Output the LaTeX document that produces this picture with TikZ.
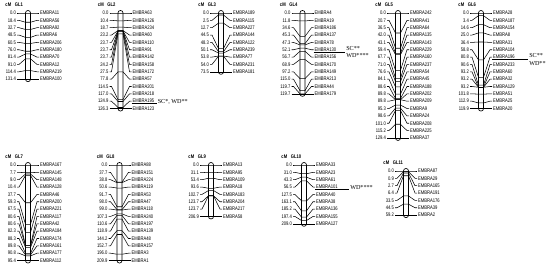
\documentclass[tikz,border=0pt]{standalone}
\usepackage{fontspec}
\setmainfont{Liberation Serif}
\newfontfamily\lblfont[FakeStretch=0.8]{Liberation Sans}

\def\rowsep{7.35}
\tikzset{
  chrom/.style={draw,line width=0.5pt,fill=white,rounded corners=1.8pt},
  tick/.style={line width=0.4pt},
  val/.style={inner xsep=0.6pt,inner ysep=0pt,anchor=east,font=\lblfont\fontsize{3.9}{4.5}\selectfont},
  mk/.style={inner xsep=0.6pt,inner ysep=0pt,anchor=west,font=\lblfont\fontsize{3.9}{4.5}\selectfont},
  hdr/.style={inner sep=0pt,font=\lblfont\bfseries\fontsize{3.9}{4.5}\selectfont},
  note/.style={inner sep=0pt,anchor=base west,font=\fontsize{4.6}{5}\selectfont},
}

% #1 group, #2 bar x, #3 first row y, #4 markers, #5 last cM, #6 cM/marker list
\newcommand{\linkgroup}[6]{%
  \pgfmathsetmacro{\ylast}{#3+(#4-1)*\rowsep}
  \draw[chrom] (#2-2.5,#3-2.5) rectangle (#2+2.5,\ylast+2.5);
  \node[hdr,anchor=east] (#1cm) at (#2-16.5,#3-8.5) {cM};
  \node[hdr,anchor=west] (#1hd) at (#2-13.5,#3-8.5) {#1};
  \foreach \v/\m [count=\i from 0] in {#6}{%
    \pgfmathsetmacro{\ry}{#3+\i*\rowsep}
    \pgfmathsetmacro{\ty}{#3+\v/#5*(#4-1)*\rowsep}
    \node[val] (#1v\i) at (#2-11,\ry) {\v};
    \node[mk] (#1m\i) at (#2+11,\ry) {\m};
    \draw[tick] (#1v\i.east) -- ++(2,0) -- (#2-2.5,\ty) -- (#2+2.5,\ty) -- (#2+9,\ry) -- (#1m\i.west);
  }%
}

\begin{document}
\begin{tikzpicture}[x=0.75pt,y=0.75pt,yscale=-1,xscale=1]
\useasboundingbox (0,0) rectangle (550,270);
% top row
\linkgroup{GL1}{28}{13}{10}{131.4}{0.0/EMBRA11,18.4/EMBRA56,32.7/EMBRA92,48.5/EMBRA6,60.5/EMBRA206,76.0/EMBRA180,81.4/EMBRA70,91.0/EMBRA12,114.4/EMBRA219,131.4/EMBRA100}
\linkgroup{GL2}{120.5}{13}{14}{126.3}{0.0/EMBRA63,10.4/EMBRA126,18.7/EMBRA234,23.2/EMBRA60,23.7/EMBRA110,23.7/EMBRA91,23.7/EMBRA142,24.2/EMBRA158,27.5/EMBRA172,77.8/EMBRA57,114.5/EMBRA201,117.0/EMBRA218,124.9/EMBRA195,126.3/EMBRA123}
\linkgroup{GL3}{221}{13}{9}{73.5}{0.0/EMBRA189,2.5/EMBRA115,12.7/EMBRA227,44.5/EMBRA144,48.3/EMBRA122,50.1/EMBRA239,53.8/EMBRA77,54.0/EMBRA231,73.5/EMBRA181}
\linkgroup{GL4}{302.5}{13}{12}{119.7}{0.0/EMBRA4,11.8/EMBRA19,34.6/EMBRA186,45.3/EMBRA137,47.3/EMBRA78,52.1/EMBRA130,56.7/EMBRA156,68.9/EMBRA170,97.2/EMBRA149,115.0/EMBRA213,119.7/EMBRA44,119.7/EMBRA179}
\linkgroup{GL5}{398}{13}{18}{129.4}{0.0/EMBRA242,20.7/EMBRA41,36.5/EMBRA64,42.0/EMBRA135,43.1/EMBRA143,59.4/EMBRA229,67.7/EMBRA160,71.0/EMBRA237,76.6/EMBRA54,84.1/EMBRA45,88.6/EMBRA188,89.8/EMBRA202,89.8/EMBRA209,95.3/EMBRA9,98.6/EMBRA24,101.0/EMBRA208,115.2/EMBRA225,129.4/EMBRA37}
\linkgroup{GL6}{481}{13}{14}{119.9}{0.0/EMBRA28,3.4/EMBRA187,14.6/EMBRA154,25.0/EMBRA8,36.4/EMBRA31,58.8/EMBRA104,80.8/EMBRA196,90.6/EMBRA233,93.2/EMBRA60,93.2/EMBRA32,93.2/EMBRA129,101.8/EMBRA51,112.9/EMBRA25,119.9/EMBRA20}
% bottom row
\linkgroup{GL7}{28}{165}{14}{95.4}{0.0/EMBRA167,7.7/EMBRA145,9.0/EMBRA148,10.4/EMBRA128,37.7/EMBRA46,59.3/EMBRA200,67.5/EMBRA221,80.6/EMBRA117,80.6/EMBRA42,82.3/EMBRA184,88.3/EMBRA174,89.8/EMBRA161,90.8/EMBRA177,95.4/EMBRA112}
\linkgroup{GL8}{119.5}{165}{14}{209.9}{0.0/EMBRA88,37.7/EMBRA151,38.8/EMBRA224,50.6/EMBRA119,91.7/EMBRA53,98.0/EMBRA47,99.0/EMBRA118,107.3/EMBRA240,110.6/EMBRA197,118.9/EMBRA139,144.2/EMBRA48,152.7/EMBRA157,196.0/EMBRA3,209.9/EMBRA1}
\linkgroup{GL9}{211}{165}{8}{206.9}{0.0/EMBRA13,31.1/EMBRA95,53.4/EMBRA109,93.6/EMBRA18,102.7/EMBRA183,123.7/EMBRA204,123.7/EMBRA217,206.9/EMBRA58}
\linkgroup{GL10}{304}{165}{9}{209.0}{0.0/EMBRA33,31.0/EMBRA23,43.3/EMBRA61,56.5/EMBRA101,127.5/EMBRA40,163.1/EMBRA38,185.2/EMBRA136,197.4/EMBRA155,209.0/EMBRA127}
\linkgroup{GL11}{406}{171}{7}{59.2}{0.0/EMBRA87,0.9/EMBRA29,2.7/EMBRA165,6.4/EMBRA191,33.5/EMBRA176,44.5/EMBRA39,59.2/EMBRA2}
% underlined markers
\draw[tick] (GL2m12.south west) -- ++(25,0) coordinate (GL2u);
\path (GL2u) ++(1,0) node[note] (GL2sc) {SC*, WD**};
\draw[tick] (GL4m5.south west) -- ++(31.5,0) coordinate (GL4u);
\path (GL4u) ++(1,-1.5) node[note] (GL4sc) {SC**};
\path (GL4u) ++(1,6) node[note] (GL4wd) {WD****};
\draw[tick] (GL6m6.south west) -- ++(36,0) coordinate (GL6u);
\path (GL6u) ++(1,-1.5) node[note] (GL6sc) {SC**};
\path (GL6u) ++(1,6) node[note] (GL6wd) {WD**};
\draw[tick] (GL10m3.south west) -- ++(34,0) coordinate (GL10u);
\path (GL10u) ++(1,0) node[note] (GL10wd) {WD****};
\end{tikzpicture}
\end{document}
